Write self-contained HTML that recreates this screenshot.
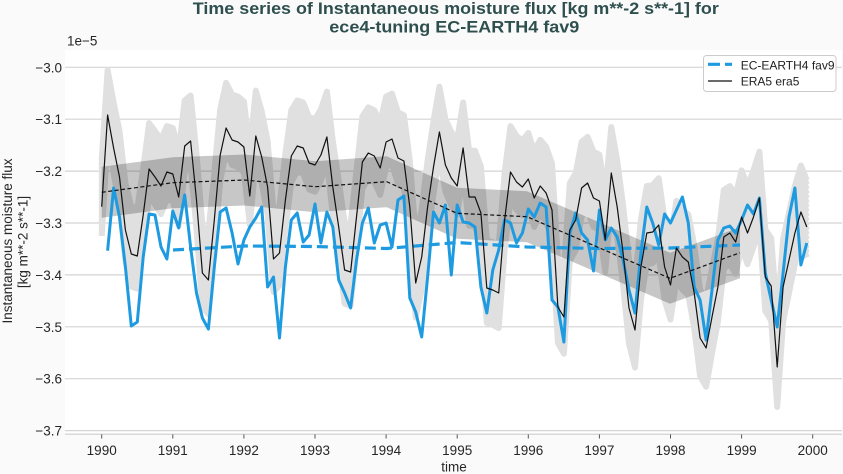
<!DOCTYPE html>
<html>
<head>
<meta charset="utf-8">
<style>
html,body{margin:0;padding:0;background:#fafafa;}
svg{display:block;font-family:"Liberation Sans",Arial,sans-serif;}
</style>
</head>
<body>
<svg width="843" height="474" viewBox="0 0 843 474" xmlns="http://www.w3.org/2000/svg">
<defs>
<clipPath id="ax"><rect x="65" y="50" width="777" height="384"/></clipPath>
<polyline id="blk" fill="none" points="101.7,206.7 107.6,115 113.6,148 119.5,177 125.4,230 131.3,254 137.3,256 143.2,215 149.1,169 155.0,177 161.0,186 166.9,172 172.8,174 178.7,197 184.7,146 190.6,141 196.5,200 202.4,273 208.4,280 214.3,220 220.2,155 226.1,128 232.1,140 238.0,142 243.9,147 249.8,196 255.8,136 261.7,157 267.6,187 273.5,259 279.5,253 285.4,200 291.3,156 297.2,146 303.2,148 309.1,163 315.0,165 320.9,155 326.9,137 332.8,187 338.7,227 344.6,270 350.6,272 356.5,217 362.4,162 368.3,153 374.3,156 380.2,168 386.1,142 392.0,139 398.0,158 403.9,161 409.8,207 415.7,283 421.7,257 427.6,207 433.5,167 439.4,132 445.4,165 451.3,178 457.2,186 463.1,148 469.1,197 475.0,197 480.9,213 486.8,288 492.8,290 498.7,293 504.6,220 510.5,172 516.5,182 522.4,187 528.3,179 534.2,198 540.2,186 546.1,193 552.0,210 557.9,307 563.9,317 569.8,230 575.7,220 581.6,188 587.6,183 593.5,198 599.4,201 605.3,240 611.3,173 617.2,207 623.1,253 629.0,308 635.0,330 640.9,267 646.8,233 652.7,232 658.7,225 664.6,267 670.5,285 676.4,248 682.4,257 688.3,262 694.2,293 700.1,338 706.1,348 712.0,317 717.9,287 723.8,237 729.8,233 735.7,242 741.6,217 747.5,233 753.5,217 759.4,198 765.3,277 771.2,286 777.2,367 783.1,287 789.0,260 794.9,233 800.9,212 806.8,227"/>
</defs>

<rect x="0" y="0" width="843" height="474" fill="#fafafa"/>
<rect x="65" y="50" width="777" height="384" fill="#ffffff"/>

<!-- grid -->
<g stroke="#d4d4d4" stroke-width="1.2">
<line x1="65" x2="842" y1="67.3" y2="67.3"/>
<line x1="65" x2="842" y1="119.2" y2="119.2"/>
<line x1="65" x2="842" y1="171.1" y2="171.1"/>
<line x1="65" x2="842" y1="223.0" y2="223.0"/>
<line x1="65" x2="842" y1="274.9" y2="274.9"/>
<line x1="65" x2="842" y1="326.8" y2="326.8"/>
<line x1="65" x2="842" y1="378.7" y2="378.7"/>
<line x1="65" x2="842" y1="430.6" y2="430.6"/>
</g>
<line x1="65" x2="842" y1="434.2" y2="434.2" stroke="#cccccc" stroke-width="1.2"/>

<g clip-path="url(#ax)">
<!-- light gray envelope -->
<g stroke="#e0e0e0" stroke-width="6" stroke-linejoin="round" fill="none">
<use href="#blk" transform="translate(0,-43.2) scale(1,0.984)"/>
<use href="#blk" transform="translate(0,-39.74) scale(1,0.9888)"/>
<use href="#blk" transform="translate(0,-36.28) scale(1,0.9936)"/>
<use href="#blk" transform="translate(0,-32.82) scale(1,0.9985)"/>
<use href="#blk" transform="translate(0,-29.36) scale(1,1.0033)"/>
<use href="#blk" transform="translate(0,-25.91) scale(1,1.0081)"/>
<use href="#blk" transform="translate(0,-22.45) scale(1,1.0129)"/>
<use href="#blk" transform="translate(0,-18.99) scale(1,1.0178)"/>
<use href="#blk" transform="translate(0,-15.53) scale(1,1.0226)"/>
<use href="#blk" transform="translate(0,-12.07) scale(1,1.0274)"/>
<use href="#blk" transform="translate(0,-8.61) scale(1,1.0322)"/>
<use href="#blk" transform="translate(0,-5.15) scale(1,1.0371)"/>
<use href="#blk" transform="translate(0,-1.69) scale(1,1.0419)"/>
<use href="#blk" transform="translate(0,1.77) scale(1,1.0467)"/>
<use href="#blk" transform="translate(0,5.23) scale(1,1.0515)"/>
<use href="#blk" transform="translate(0,8.69) scale(1,1.0564)"/>
<use href="#blk" transform="translate(0,12.14) scale(1,1.0612)"/>
<use href="#blk" transform="translate(0,15.6) scale(1,1.066)"/>
</g>

<!-- dark band -->
<polygon fill="rgba(0,0,0,0.22)" points="101.7,166.8 172.8,157.2 244.3,154.5 315.3,161.2 386.7,156.2 457,187.8 527,191.2 670,252.8 740,227.2 740,278.2 670,303.8 527,242.2 457,238.8 386.7,207.2 315.3,212.2 244.3,205.5 172.8,208.2 101.7,217.8"/>

<!-- blue series -->
<polyline fill="none" stroke="#1e9be0" stroke-width="3" stroke-linejoin="round" points="107.6,250.7 113.6,188 119.5,217 125.4,267 131.3,326 137.3,322 143.2,257 149.1,214 155.0,215 161.0,247 166.9,259 172.8,211 178.7,228 184.7,195 190.6,247 196.5,293 202.4,318 208.4,329 214.3,267 220.2,212 226.1,208 232.1,233 238.0,264 243.9,240 249.8,227 255.8,218 261.7,207 267.6,287 273.5,277 279.5,338 285.4,267 291.3,220 297.2,213 303.2,242 309.1,235 315.0,204 320.9,243 326.9,212 332.8,227 338.7,280 344.6,293 350.6,308 356.5,260 362.4,223 368.3,208 374.3,243 380.2,225 386.1,223 392.0,247 398.0,200 403.9,196 409.8,298 415.7,312 421.7,337 427.6,277 433.5,212 439.4,223 445.4,205 451.3,275 457.2,205 463.1,222 469.1,223 475.0,227 480.9,287 486.8,313 492.8,270 498.7,250 504.6,220 510.5,223 516.5,243 522.4,233 528.3,209 534.2,217 540.2,203 546.1,207 552.0,300 557.9,307 563.9,342 569.8,233 575.7,213 581.6,233 587.6,240 593.5,271 599.4,210 605.3,240 611.3,228 617.2,237 623.1,260 629.0,290 635.0,313 640.9,253 646.8,207 652.7,223 658.7,245 664.6,214 670.5,223 676.4,210 682.4,197 688.3,223 694.2,287 700.1,300 706.1,340 712.0,290 717.9,240 723.8,228 729.8,226 735.7,233 741.6,220 747.5,205 753.5,214 759.4,198 765.3,273 771.2,300 777.2,327 783.1,273 789.0,217 794.9,188 800.9,265 806.8,243"/>
<polyline fill="none" stroke="#1e9be0" stroke-width="3.2" stroke-dasharray="11,5" points="173,250 244.3,246 315.3,246.5 386.7,248.5 457,242.5 527,247 599,248.5 670,248 740,245"/>

<!-- black series -->
<use href="#blk" stroke="#111111" stroke-width="1.2" stroke-linejoin="round"/>
<polyline fill="none" stroke="#111111" stroke-width="1.2" stroke-dasharray="4,2.5" points="101.7,192.3 172.8,182.7 244.3,180 315.3,186.7 386.7,181.7 457,213.3 527,216.7 670,278.3 740,252.7"/>
</g>

<!-- x ticks -->
<g stroke="#555" stroke-width="1">
<line x1="101.7" x2="101.7" y1="434.5" y2="438.5"/>
<line x1="172.8" x2="172.8" y1="434.5" y2="438.5"/>
<line x1="243.9" x2="243.9" y1="434.5" y2="438.5"/>
<line x1="315.0" x2="315.0" y1="434.5" y2="438.5"/>
<line x1="386.1" x2="386.1" y1="434.5" y2="438.5"/>
<line x1="457.2" x2="457.2" y1="434.5" y2="438.5"/>
<line x1="528.3" x2="528.3" y1="434.5" y2="438.5"/>
<line x1="599.4" x2="599.4" y1="434.5" y2="438.5"/>
<line x1="670.5" x2="670.5" y1="434.5" y2="438.5"/>
<line x1="741.6" x2="741.6" y1="434.5" y2="438.5"/>
<line x1="812.7" x2="812.7" y1="434.5" y2="438.5"/>
</g>
<g font-size="13.5" fill="#262626" text-anchor="middle">
<text x="101.7" y="455">1990</text>
<text x="172.8" y="455">1991</text>
<text x="243.9" y="455">1992</text>
<text x="315.0" y="455">1993</text>
<text x="386.1" y="455">1994</text>
<text x="457.2" y="455">1995</text>
<text x="528.3" y="455">1996</text>
<text x="599.4" y="455">1997</text>
<text x="670.5" y="455">1998</text>
<text x="741.6" y="455">1999</text>
<text x="812.7" y="455">2000</text>
<text x="454" y="471.5">time</text>
</g>

<!-- y ticks -->
<g font-size="13.5" fill="#262626" text-anchor="end">
<text x="62" y="72.3">−3.0</text>
<text x="62" y="124.2">−3.1</text>
<text x="62" y="176.1">−3.2</text>
<text x="62" y="228.0">−3.3</text>
<text x="62" y="279.9">−3.4</text>
<text x="62" y="331.8">−3.5</text>
<text x="62" y="383.7">−3.6</text>
<text x="62" y="435.6">−3.7</text>
</g>
<text x="67" y="45.7" font-size="13.5" fill="#262626">1e−5</text>

<!-- y label -->
<g font-size="13.5" fill="#262626" text-anchor="middle">
<text transform="translate(12,241) rotate(-90)">Instantaneous moisture flux</text>
<text transform="translate(27.5,242) rotate(-90)">[kg m**-2 s**-1]</text>
</g>

<!-- title -->
<g font-size="17" font-weight="bold" fill="#2f4f4f" text-anchor="middle">
<text x="455.8" y="14" textLength="526" lengthAdjust="spacingAndGlyphs">Time series of Instantaneous moisture flux [kg m**-2 s**-1] for</text>
<text x="454.3" y="32.3" textLength="250" lengthAdjust="spacingAndGlyphs">ece4-tuning EC-EARTH4 fav9</text>
</g>

<!-- legend -->
<rect x="703.5" y="55.5" width="132.5" height="36" rx="3" ry="3" fill="rgba(255,255,255,0.85)" stroke="#cccccc" stroke-width="1"/>
<line x1="708" x2="732" y1="64.3" y2="64.3" stroke="#1e9be0" stroke-width="3.2" stroke-dasharray="12,5"/>
<line x1="708" x2="732" y1="81" y2="81" stroke="#111111" stroke-width="1.2"/>
<g font-size="12" fill="#222">
<text x="740.7" y="69.5">EC-EARTH4 fav9</text>
<text x="740.7" y="85.5">ERA5 era5</text>
</g>
</svg>
</body>
</html>
